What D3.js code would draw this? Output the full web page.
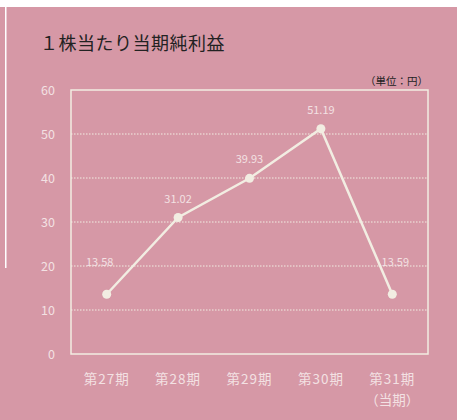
<!DOCTYPE html>
<html>
<head>
<meta charset="utf-8">
<script src="https://cdn.jsdelivr.net/npm/d3@7"></script>
<style>
	body { margin: 0; background: #fff; }
	svg { display: block; }
</style>
</head>
<body>
<div id="chart"></div>
<script>
// data
var periods = ["第27期", "第28期", "第29期", "第30期", "第31期"];
var subLabels = ["", "", "", "", "（当期）"];
var eps = [13.58, 31.02, 39.93, 51.19, 13.59];
var yTicks = [0, 10, 20, 30, 40, 50, 60];

var width = 457, height = 420;
var margin = {top: 90, right: 29, bottom: 66, left: 71};
var pink = "#d698a6", cream = "#f2ede2", light = "#f3e1e3";
var font = "'Noto Sans CJK JP', 'Noto Sans', sans-serif";

var svg = d3.select("#chart")
	.append("svg")
	.attr("width", width)
	.attr("height", height);

// background
svg.append("rect")
	.attr("x", 0).attr("y", 7)
	.attr("width", width).attr("height", height - 7)
	.attr("fill", pink);
svg.append("rect")
	.attr("x", 5).attr("y", 7)
	.attr("width", 1.5).attr("height", 261)
	.attr("fill", "#fff");

var x = d3.scaleBand()
	.domain(periods)
	.range([margin.left, width - margin.right]);

var y = d3.scaleLinear()
	.domain([0, 60])
	.range([height - margin.bottom, margin.top]);

//gridlines
svg.selectAll(".grid")
	.data(yTicks.filter(function(d) { return d > 0 && d < 60; }))
	.enter()
	.append("line")
	.attr("x1", margin.left)
	.attr("x2", width - margin.right)
	.attr("y1", function(d) { return y(d); })
	.attr("y2", function(d) { return y(d); })
	.attr("stroke", cream)
	.attr("stroke-width", 1)
	.attr("stroke-dasharray", "1.5,1.5");

// frame
svg.append("rect")
	.attr("x", margin.left)
	.attr("y", margin.top)
	.attr("width", width - margin.left - margin.right)
	.attr("height", height - margin.top - margin.bottom)
	.attr("fill", "none")
	.attr("stroke", cream)
	.attr("stroke-width", 1.5);

// y axis
var yAxis = svg.append("g")
	.attr("transform", "translate(" + (margin.left - 16) + ",0)")
	.call(d3.axisLeft(y).tickValues(yTicks).tickSize(0).tickPadding(0));
yAxis.select(".domain").remove();
yAxis.selectAll("text")
	.attr("fill", light)
	.attr("font-size", "12.5px")
	.attr("font-family", font);

// x axis
var xAxis = svg.append("g")
	.attr("transform", "translate(0," + (height - margin.bottom) + ")")
	.call(d3.axisBottom(x).tickSize(0).tickPadding(20));
xAxis.select(".domain").remove();
xAxis.selectAll("text")
	.attr("fill", light)
	.attr("font-size", "13.5px")
	.attr("letter-spacing", "1px")
	.attr("font-family", font);

svg.selectAll(".sub")
	.data(subLabels)
	.enter()
	.append("text")
	.attr("x", function(d, i) { return x(periods[i]) + x.bandwidth() / 2; })
	.attr("y", height - margin.bottom + 51)
	.attr("text-anchor", "middle")
	.attr("fill", light)
	.attr("font-size", "13.5px")
	.attr("font-family", font)
	.text(function(d) { return d; });

// line
var cx = function(d, i) { return x(periods[i]) + x.bandwidth() / 2; };
var line = d3.line()
	.x(cx)
	.y(function(d) { return y(d); });

svg.append("path")
	.datum(eps)
	.attr("d", line)
	.attr("fill", "none")
	.attr("stroke", cream)
	.attr("stroke-width", 2.5);

svg.selectAll(".dot")
	.data(eps)
	.enter()
	.append("circle")
	.attr("cx", cx)
	.attr("cy", function(d) { return y(d); })
	.attr("r", 4.5)
	.attr("fill", cream);

// value labels
svg.selectAll(".val")
	.data(eps)
	.enter()
	.append("text")
	.attr("x", function(d, i) { return cx(d, i) + (i == 0 ? -7 : (i == eps.length - 1 ? 3 : 0)); })
	.attr("y", function(d, i) {
		var off = (i == 0 || i == eps.length - 1) ? 28 : 15;
		return y(d) - off;
	})
	.attr("text-anchor", "middle")
	.attr("fill", light)
	.attr("font-size", "11px")
	.attr("font-family", font)
	.text(function(d) { return d.toFixed(2); });

// title, unit
svg.append("text")
	.attr("x", 40)
	.attr("y", 50)
	.attr("fill", "#222")
	.attr("font-size", "18px")
	.attr("letter-spacing", "0.5px")
	.attr("font-family", font)
	.text("１株当たり当期純利益");

svg.append("text")
	.attr("x", width - margin.right)
	.attr("y", 85)
	.attr("text-anchor", "end")
	.attr("fill", "#222")
	.attr("font-size", "10.5px")
	.attr("font-family", font)
	.text("（単位：円）");
</script>
</body>
</html>
